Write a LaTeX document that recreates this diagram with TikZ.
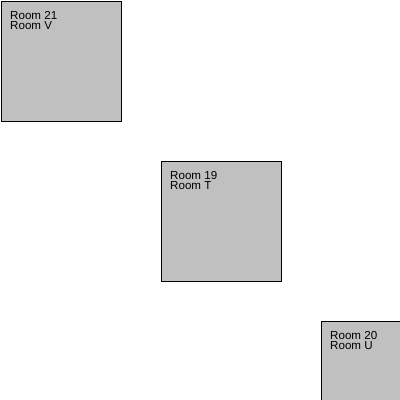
\documentclass[tikz,border=0pt]{standalone}
\usepackage{fontspec}
\setmainfont{Liberation Sans}
\usetikzlibrary{positioning}
\definecolor{roomgray}{HTML}{C0C0C0}

\begin{document}
\begin{tikzpicture}[x=1pt,y=-1pt]
\tikzstyle{room}=[rectangle, draw=black, fill=roomgray, line width=1pt, minimum size=120pt, inner sep=0pt, anchor=north west]
\tikzstyle{roomlabel}=[align=left, inner sep=0pt, font=\fontsize{11.6}{10}\selectfont]
\useasboundingbox (0,0) rectangle (400,400);
\clip (0,0) rectangle (400,400);
  \node[room] (r21) at (0.5,0.5) {};
  \node[room] (r19) at (160.5,160.5) {};
  \node[room] (r20) at (320.5,320.5) {};
  \node[roomlabel] (t21) [below right =11pt and 9.5pt of r21.north west] {Room 21\\Room V};
  \node[roomlabel] (t19) [below right =11pt and 9.5pt of r19.north west] {Room 19\\Room T};
  \node[roomlabel] (t20) [below right =11pt and 9.5pt of r20.north west] {Room 20\\Room U};
\end{tikzpicture}
\end{document}
